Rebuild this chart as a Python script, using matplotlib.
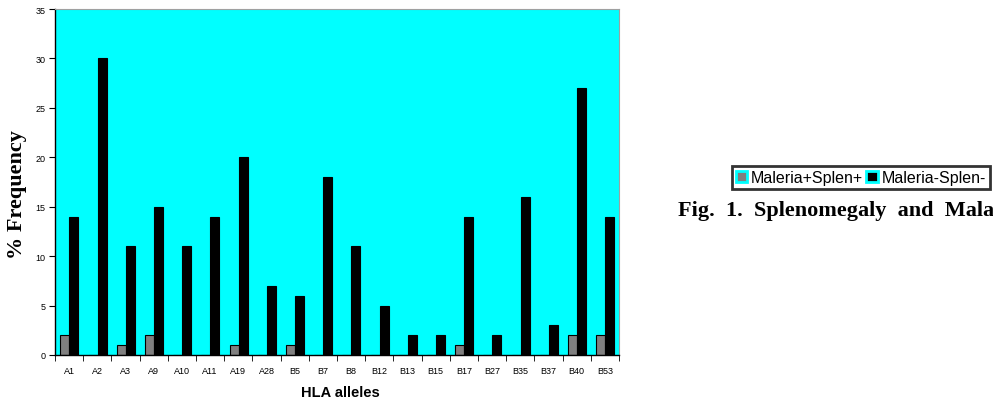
import matplotlib
matplotlib.use('Agg')
import matplotlib.pyplot as plt
import matplotlib.patches as patches
import numpy as np

# HLA alleles and % frequency for each group
alleles = ['A1', 'A2', 'A3', 'A9', 'A10', 'A11', 'A19', 'A28', 'B5', 'B7',
           'B8', 'B12', 'B13', 'B15', 'B17', 'B27', 'B35', 'B37', 'B40', 'B53']
splen_pos = [2, 0, 1, 2, 0, 0, 1, 0, 1, 0, 0, 0, 0, 0, 1, 0, 0, 0, 2, 2]
splen_neg = [14, 30, 11, 15, 11, 14, 20, 7, 6, 18, 11, 5, 2, 2, 14, 2, 16, 3, 27, 14]
series_names = ['Maleria+Splen+', 'Maleria-Splen-']
caption = 'Fig.  1.  Splenomegaly  and  Malaria'

plt.rcParams['font.family'] = ['Liberation Sans', 'DejaVu Sans']

fig = plt.figure(figsize=(9.93, 4.06), dpi=100)
ax = fig.add_axes([55 / 993, 1 - 356 / 406, (619 - 55) / 993, (356 - 10) / 406])
ax.set_facecolor('#00ffff')

x = np.arange(len(alleles))
w = 0.32
ax.bar(x - w / 2 + 0.01, splen_pos, w, color='#808080', edgecolor='black', linewidth=0.8)
ax.bar(x + w / 2 + 0.01, splen_neg, w, color='black', edgecolor='black', linewidth=0.8)

ax.set_xlim(-0.5, len(alleles) - 0.5)
ax.set_ylim(0, 35)
ax.set_yticks(range(0, 36, 5))
ax.set_xticks(x)
ax.set_xticklabels(alleles)
ax.set_xticks(np.arange(-0.5, len(alleles)), minor=True)
ax.tick_params(axis='x', which='major', length=0, labelsize=6.5, pad=8)
ax.tick_params(axis='x', which='minor', length=4, direction='out')
ax.tick_params(axis='y', length=4, direction='out', labelsize=6.5, pad=3)

for s in ['top', 'right']:
    ax.spines[s].set_color('#a0a0a0')
    ax.spines[s].set_linewidth(0.8)
ax.spines['left'].set_linewidth(1)
ax.spines['bottom'].set_linewidth(1)

fig.text(340 / 993, 1 - 393 / 406, 'HLA alleles', ha='center', va='center',
         fontsize=10.5, fontweight='bold')
fig.text(17 / 993, 1 - 195 / 406, '% Frequency', ha='center', va='center',
         rotation=90, fontsize=16, fontweight='bold', family='Liberation Serif')

handles = [patches.Patch(facecolor='#808080', edgecolor='#00ffff', linewidth=2),
           patches.Patch(facecolor='black', edgecolor='#00ffff', linewidth=2)]
leg = fig.legend(handles, series_names, loc='lower left',
                 bbox_to_anchor=(732 / 993, 1 - 190 / 406), ncol=2,
                 fontsize=11.5, frameon=True, fancybox=False,
                 handlelength=0.7, handleheight=0.7, handletextpad=0.25,
                 columnspacing=0.2, borderpad=0.25, borderaxespad=0)
leg.get_frame().set_edgecolor('black')
leg.get_frame().set_linewidth(2)

# caption runs past the right edge, as in the source page
fig.text(678 / 993, 1 - 211 / 406, caption, ha='left', va='center',
         fontsize=16, fontweight='bold', family='Liberation Serif')

fig.savefig('out.png', dpi=100)
